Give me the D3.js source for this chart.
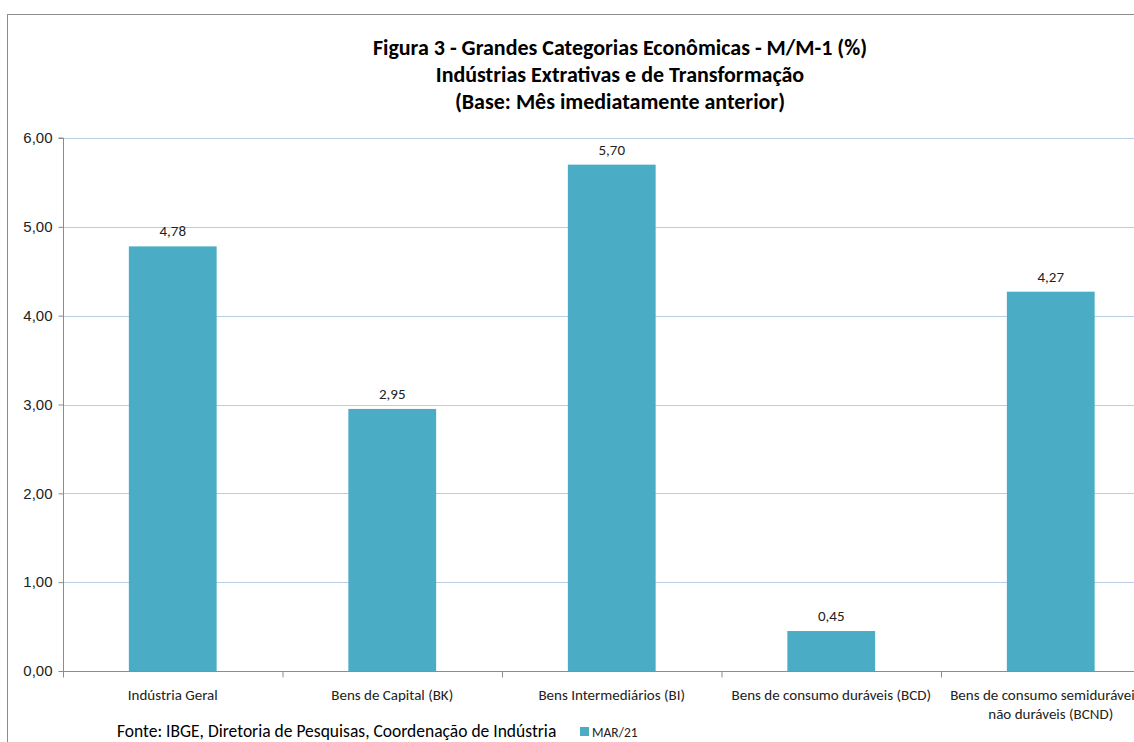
<!DOCTYPE html>
<html>
<head>
<meta charset="utf-8">
<script src="https://cdn.jsdelivr.net/npm/d3@7"></script>
<style>
  html, body { margin: 0; padding: 0; background: #fff; overflow: hidden; }
  svg { display: block; font-family: Carlito, Calibri, Lato, "Open Sans", sans-serif; }
</style>
</head>
<body>
<svg id="chart"></svg>
<script>
const width = 1134, height = 742;

// data
const categories = ["Indústria Geral", "Bens de Capital (BK)", "Bens Intermediários (BI)",
                    "Bens de consumo duráveis (BCD)", "Bens de consumo semiduráveis e|não duráveis (BCND)"];
const values = [4.78, 2.95, 5.70, 0.45, 4.27];
const yTicks = [0, 1, 2, 3, 4, 5, 6];
const titleLines = ["Figura 3 - Grandes Categorias Econômicas - M/M-1 (%)",
                    "Indústrias Extrativas e de Transformação",
                    "(Base: Mês imediatamente anterior)"];
const seriesName = "MAR/21";
const source = "Fonte: IBGE, Diretoria de Pesquisas, Coordenação de Indústria";

const svg = d3.select("#chart").attr("width", width).attr("height", height);

// outer frame, runs off the right and bottom edges like the screenshot
svg.append("rect")
  .attr("x", 7.5).attr("y", 14.5)
  .attr("width", width).attr("height", height)
  .attr("fill", "none").attr("stroke", "#8c8c8c").attr("stroke-width", 1);

// title
svg.append("g").selectAll("text")
  .data(titleLines)
  .enter().append("text")
  .attr("x", 620)
  .attr("y", (d, i) => 55 + i * 27)
  .attr("text-anchor", "middle")
  .attr("font-size", "22px")
  .attr("font-weight", "bold")
  .attr("fill", "#000")
  .text(d => d);

const plot = {left: 63, top: 138, bottom: 671};
const band = 219.5;

const x = d3.scaleBand()
  .domain(categories)
  .range([plot.left, plot.left + band * categories.length])
  .paddingInner(0.6).paddingOuter(0.3);

const y = d3.scaleLinear()
  .domain([0, 6])
  .range([plot.bottom, plot.top]);

// gridlines
svg.append("g").selectAll("line")
  .data(yTicks.filter(d => d > 0))
  .enter().append("line")
  .attr("x1", plot.left).attr("x2", width)
  .attr("y1", d => Math.round(y(d)) + 0.5).attr("y2", d => Math.round(y(d)) + 0.5)
  .attr("stroke", "#b9cde5").attr("stroke-width", 1);

// bars
svg.append("g").selectAll("rect")
  .data(values)
  .enter().append("rect")
  .attr("x", (d, i) => x(categories[i]))
  .attr("y", d => y(d))
  .attr("width", x.bandwidth())
  .attr("height", d => y(0) - y(d))
  .attr("fill", "#4bacc6");

// value labels
svg.append("g").selectAll("text")
  .data(values)
  .enter().append("text")
  .attr("x", (d, i) => x(categories[i]) + x.bandwidth() / 2)
  .attr("y", d => y(d) - 10)
  .attr("text-anchor", "middle")
  .attr("font-size", "15px")
  .attr("fill", "#222")
  .text(d => d3.format(".2f")(d).replace(".", ","));

// y axis
const yAxis = svg.append("g")
  .attr("transform", `translate(${plot.left + 0.5},0)`)
  .call(d3.axisLeft(y).tickValues(yTicks).tickSize(5).tickPadding(6)
    .tickFormat(d => d3.format(".2f")(d).replace(".", ",")));
yAxis.select(".domain").attr("stroke", "#8c8c8c").attr("d", `M-5,${plot.top}H0V${plot.bottom}`);
yAxis.selectAll(".tick line").attr("stroke", "#8c8c8c");
yAxis.selectAll("text").attr("font-size", "15px").attr("fill", "#222").attr("font-family", null);

// x axis: line and tick marks at category boundaries
const xAxis = svg.append("g").attr("transform", `translate(0,${plot.bottom + 0.5})`);
xAxis.append("line")
  .attr("x1", plot.left).attr("x2", width)
  .attr("stroke", "#8c8c8c");
xAxis.selectAll("line.tk")
  .data(d3.range(categories.length + 1))
  .enter().append("line").attr("class", "tk")
  .attr("x1", i => plot.left + 0.5 + i * band).attr("x2", i => plot.left + 0.5 + i * band)
  .attr("y1", 0).attr("y2", 6)
  .attr("stroke", "#8c8c8c");

// category labels (second line where split with |)
const cat = xAxis.selectAll("text.cat")
  .data(categories)
  .enter().append("text").attr("class", "cat")
  .attr("x", d => x(d) + x.bandwidth() / 2)
  .attr("y", 28)
  .attr("text-anchor", "middle")
  .attr("font-size", "15px")
  .attr("fill", "#222");
cat.selectAll("tspan")
  .data(d => d.split("|").map(t => ({t, c: d})))
  .enter().append("tspan")
  .attr("x", d => x(d.c) + x.bandwidth() / 2)
  .attr("dy", (d, i) => i ? 19 : 0)
  .text(d => d.t);

// source
svg.append("text")
  .attr("x", 117).attr("y", 737)
  .attr("font-size", "17.5px")
  .attr("fill", "#000")
  .text(source);

// legend
svg.append("rect")
  .attr("x", 580).attr("y", 727)
  .attr("width", 9).attr("height", 9)
  .attr("fill", "#4bacc6");
svg.append("text")
  .attr("x", 592).attr("y", 737)
  .attr("font-size", "13.5px")
  .attr("fill", "#222")
  .text(seriesName);
</script>
</body>
</html>
